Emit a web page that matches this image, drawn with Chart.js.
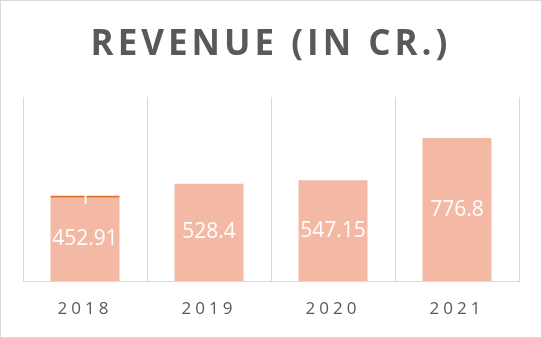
<!DOCTYPE html>
<html>
<head>
<meta charset="utf-8">
<script src="https://cdn.jsdelivr.net/npm/chart.js@4.4.1/dist/chart.umd.min.js"></script>
<style>
  html, body { margin: 0; padding: 0; background: #ffffff; }
  #wrap { width: 542px; height: 338px; position: relative; }
</style>
</head>
<body>
<div id="wrap"><canvas id="c" width="542" height="338"></canvas></div>
<script>
const categories = ["2018", "2019", "2020", "2021"];
const revenueValues = [452.91, 528.4, 547.15, 776.8];
const extraValues = [1, null, null, null];
const chartTitle = "REVENUE (IN CR.)";

const frame = {
  id: 'frame',
  beforeDraw(chart) {
    const ctx = chart.ctx;
    ctx.save();
    ctx.fillStyle = '#ffffff';
    ctx.fillRect(0, 0, chart.width, chart.height);
    ctx.strokeStyle = '#d9d9d9';
    ctx.lineWidth = 1;
    ctx.strokeRect(0.5, 0.5, chart.width - 1, chart.height - 1);
    ctx.restore();
    ctx.letterSpacing = '4px';
  },
  beforeDatasetsDraw(chart) {
    chart.ctx.letterSpacing = '0px';
  },
  afterDatasetsDraw(chart) {
    const ctx = chart.ctx;
    ctx.save();
    ctx.letterSpacing = '0px';
    ctx.font = '21px "Open Sans"';
    ctx.fillStyle = '#ffffff';
    ctx.textAlign = 'center';
    ctx.textBaseline = 'middle';
    chart.data.datasets.forEach((ds, di) => {
      const meta = chart.getDatasetMeta(di);
      meta.data.forEach((bar, i) => {
        const v = ds.data[i];
        if (v === null || v === undefined) return;
        const cy = (bar.y + bar.base) / 2;
        ctx.fillText(String(v), bar.x, cy + (di === 1 ? 1 : 0));
      });
    });
    ctx.restore();
  }
};

new Chart(document.getElementById('c'), {
  type: 'bar',
  data: {
    labels: categories,
    datasets: [
      {
        label: 'Revenue',
        data: revenueValues,
        backgroundColor: '#f3b9a4',
        categoryPercentage: 1,
        barPercentage: 0.556,
        stack: 's'
      },
      {
        label: 'Extra',
        data: extraValues,
        backgroundColor: '#e0702c',
        categoryPercentage: 1,
        barPercentage: 0.556,
        minBarLength: 2,
        stack: 's'
      }
    ]
  },
  options: {
    responsive: false,
    animation: false,
    devicePixelRatio: 1,
    layout: { padding: { top: 4, left: 23, right: 23, bottom: 0 } },
    plugins: {
      legend: { display: false },
      tooltip: { enabled: false },
      title: {
        display: true,
        text: chartTitle,
        color: '#595959',
        font: { family: '"Open Sans"', size: 35, weight: 'bold', lineHeight: 1.2 },
        padding: { top: 20, bottom: 31 }
      }
    },
    scales: {
      x: {
        stacked: true,
        grid: { display: true, color: '#d9d9d9', drawTicks: false, offset: true },
        border: { display: true, color: '#d9d9d9' },
        ticks: { color: '#595959', padding: 20, font: { family: '"Open Sans"', size: 17, lineHeight: 1.0 } }
      },
      y: {
        stacked: true,
        display: false,
        min: 0,
        max: 1000
      }
    }
  },
  plugins: [frame]
});
</script>
</body>
</html>
